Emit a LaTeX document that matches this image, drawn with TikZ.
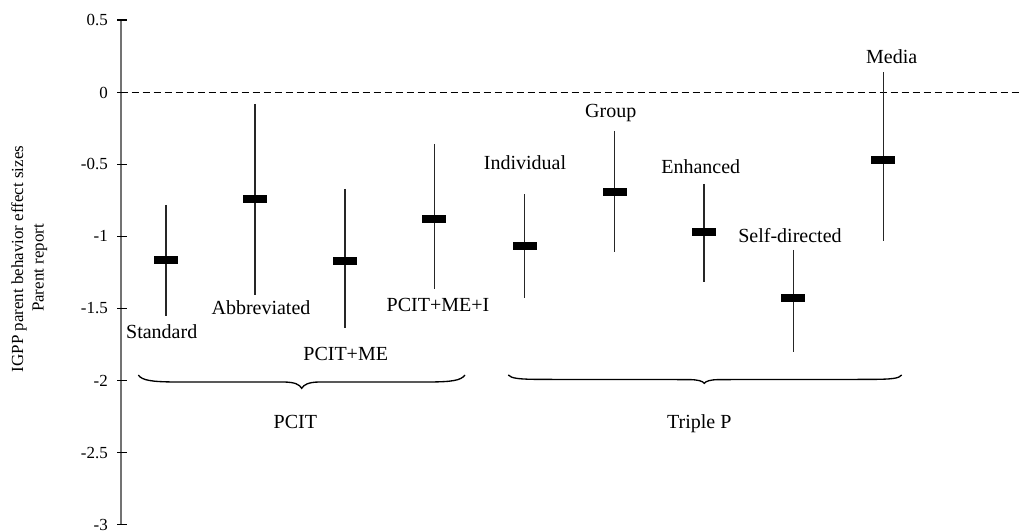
\documentclass[tikz,border=0pt]{standalone}
\usepackage{fontspec}
\setmainfont{Liberation Serif}
\begin{document}
\begin{tikzpicture}[x=0.75pt,y=-0.75pt,
  axisline/.style={draw=black!55,line width=1.5pt},
  tickmark/.style={draw=black,line width=0.9pt},
  ticklabel/.style={font=\fontsize{12.7}{15}\selectfont,anchor=east,inner sep=0pt},
  whisker/.style={draw=black!85,line width=1pt},
  meanbar/.style={rectangle,fill=black,draw=none,minimum width=18pt,minimum height=6pt,inner sep=0pt},
  lab/.style={font=\fontsize{15}{18}\selectfont,anchor=base,inner sep=0pt},
  axlab/.style={font=\fontsize{12.7}{15}\selectfont,rotate=90,inner sep=0pt},
  bracepath/.style={draw=black,line width=1pt},
  zeroline/.style={draw=black,line width=0.9pt,dash pattern=on 5.25pt off 3pt}]
\useasboundingbox (0,0) rectangle (1022,531);
% axis
\coordinate (ax-top) at (120.5,20);
\coordinate (ax-bot) at (120.5,524.5);
\draw[axisline] (ax-top) -- (ax-bot);
\foreach \v/\y [count=\i] in {0.5/20,0/92.5,-0.5/164.3,-1/236.2,-1.5/308.3,-2/380.5,-2.5/452.6,-3/524.5}{
  \draw[tickmark] (117,\y) -- (127,\y);
  \node[ticklabel] (tl\i) at (108,\y) {\v};
}
% zero line
\coordinate (zl-a) at (120.5,92.5);
\coordinate (zl-b) at (1022,92.5);
\draw[zeroline] (zl-a) -- (zl-b);
% axis label
\node[axlab] (ylab1) at (19,259) {IGPP parent behavior effect sizes};
\node[axlab] (ylab2) at (40,268) {Parent report};
% data
\foreach \n/\x/\t/\b/\m in {std/166/205/315.7/260, abb/255/104/295/199, me/345/189/328/261, mei/434.3/144/289/219, ind/524.7/194.3/298.3/246, grp/614.7/131/252.3/192, enh/704/184/282.3/232, sd/793.3/250/352.3/297.7, med/883.3/72.3/240.7/160}{
  \coordinate (\n-top) at (\x,\t);
  \coordinate (\n-bot) at (\x,\b);
  \draw[whisker] (\n-top) -- (\n-bot);
  \node[meanbar] (\n-mean) at (\x,\m) {};
}
% labels
\node[lab] (l-std) at (161.7,338.3) {Standard};
\node[lab] (l-abb) at (261,315) {Abbreviated};
\node[lab] (l-me) at (345.7,360.5) {PCIT+ME};
\node[lab] (l-mei) at (438,311.7) {PCIT+ME+I};
\node[lab] (l-ind) at (525,169.3) {Individual};
\node[lab] (l-grp) at (610.7,117.3) {Group};
\node[lab] (l-enh) at (700.7,174) {Enhanced};
\node[lab] (l-sd) at (790,242.7) {Self-directed};
\node[lab] (l-med) at (891.7,64) {Media};
% braces
\draw[bracepath] (138.3,375) .. controls (142,380.5) and (152,381.8) .. (175,382)
  -- (284,382) .. controls (295,382.2) and (299.5,384.5) .. (301.7,388.3)
  .. controls (304,384.5) and (308.5,382.2) .. (319,382)
  -- (430,382) .. controls (452,381.8) and (461,380.5) .. (465,375);
\draw[bracepath] (508.3,375) .. controls (511,378.5) and (520,379.3) .. (540,379.4)
  -- (690,379.6) .. controls (698,379.8) and (702.5,381) .. (704.3,383.3)
  .. controls (706,381) and (710.5,379.8) .. (718,379.6)
  -- (870,379.4) .. controls (892,379.3) and (899,378.5) .. (901.7,375);
\node[lab] (g-pcit) at (295.3,428.3) {PCIT};
\node[lab] (g-ppp) at (699.3,428.3) {Triple P};
\end{tikzpicture}
\end{document}
